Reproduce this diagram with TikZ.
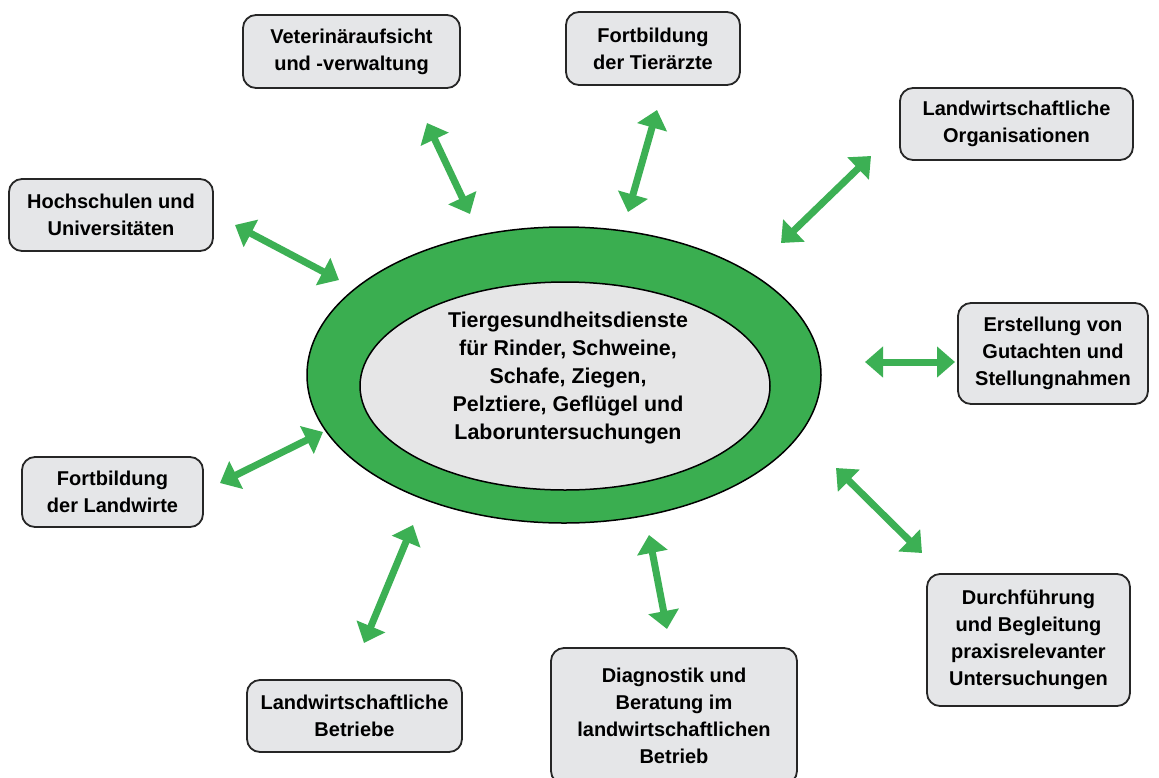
\documentclass[tikz,border=0pt]{standalone}
\usepackage{fontspec}
\setmainfont{Liberation Sans}
\usetikzlibrary{arrows.meta,shapes.geometric}
\definecolor{ringgreen}{RGB}{58,174,80}
\definecolor{arrowgreen}{RGB}{60,176,84}
\definecolor{boxgray}{RGB}{229,230,232}
\definecolor{coregray}{RGB}{230,230,231}
\tikzset{
  infobox/.style={draw=black!85, line width=1.8pt, fill=boxgray, rounded corners=13pt,
    align=center, inner sep=0pt, font=\fontsize{20}{27}\selectfont\bfseries},
  link/.style={draw=arrowgreen, line width=7pt,
    {Triangle[length=18pt,width=30pt]}-{Triangle[length=18pt,width=30pt]}},
}
\begin{document}
\begin{tikzpicture}[x=1pt,y=-1pt]
\useasboundingbox (0,0) rectangle (1159,777);
\fill[white] (0,0) rectangle (1159,777);

% central service ring
\node[ellipse, draw=black, line width=1.5pt, fill=ringgreen,
      minimum width=514pt, minimum height=296pt, inner sep=0pt] (ring) at (564,375) {};
\node[ellipse, draw=black, line width=1.5pt, fill=coregray,
      minimum width=410pt, minimum height=208pt, inner sep=0pt] (core) at (565,386) {};
\node[align=center, font=\fontsize{21.4}{28}\selectfont\bfseries] (coretext) at (568,378)
  {Tiergesundheitsdienste\\für Rinder, Schweine,\\Schafe, Ziegen,\\Pelztiere, Geflügel und\\Laboruntersuchungen};

% partner boxes
\node[infobox, minimum width=217pt, minimum height=73pt] (vet) at (351.5,51.5)
  {Veterinäraufsicht\\und -verwaltung};
\node[infobox, minimum width=174pt, minimum height=73pt] (fbt) at (653,48.5)
  {Fortbildung\\der Tierärzte};
\node[infobox, minimum width=233pt, minimum height=72pt] (lwo) at (1016.5,124)
  {Landwirtschaftliche\\Organisationen};
\node[infobox, minimum width=204pt, minimum height=72pt] (hoch) at (111,215)
  {Hochschulen und\\Universitäten};
\node[infobox, minimum width=190pt, minimum height=101pt] (erst) at (1053,353.5)
  {Erstellung von\\Gutachten und\\Stellungnahmen};
\node[infobox, minimum width=181pt, minimum height=70pt] (fbl) at (112.5,492)
  {Fortbildung\\der Landwirte};
\node[infobox, minimum width=203pt, minimum height=132pt] (durch) at (1028.5,640)
  {Durchführung\\und Begleitung\\praxisrelevanter\\Untersuchungen};
\node[infobox, minimum width=215pt, minimum height=72pt] (lwb) at (354.5,716)
  {Landwirtschaftliche\\Betriebe};
\node[infobox, minimum width=246pt, minimum height=136pt] (diag) at (674,716)
  {Diagnostik und\\Beratung im\\landwirtschaftlichen\\Betrieb};

% arrow end points
\coordinate (vet-a) at (427,123);   \coordinate (vet-b) at (470,214);
\coordinate (fbt-a) at (657,110);   \coordinate (fbt-b) at (628,212);
\coordinate (lwo-a) at (871,156);   \coordinate (lwo-b) at (781,243);
\coordinate (hoch-a) at (235,225);  \coordinate (hoch-b) at (339,280);
\coordinate (erst-a) at (955,362);  \coordinate (erst-b) at (865,362);
\coordinate (fbl-a) at (220,483);   \coordinate (fbl-b) at (323,432);
\coordinate (durch-a) at (922,553); \coordinate (durch-b) at (836,468);
\coordinate (lwb-a) at (364,643);   \coordinate (lwb-b) at (413,525);
\coordinate (diag-a) at (667,629);  \coordinate (diag-b) at (649,535);

% two-way links
\foreach \n in {vet,fbt,lwo,hoch,erst,fbl,durch,lwb,diag}
  \draw[link] (\n-a) -- (\n-b);
\end{tikzpicture}
\end{document}
